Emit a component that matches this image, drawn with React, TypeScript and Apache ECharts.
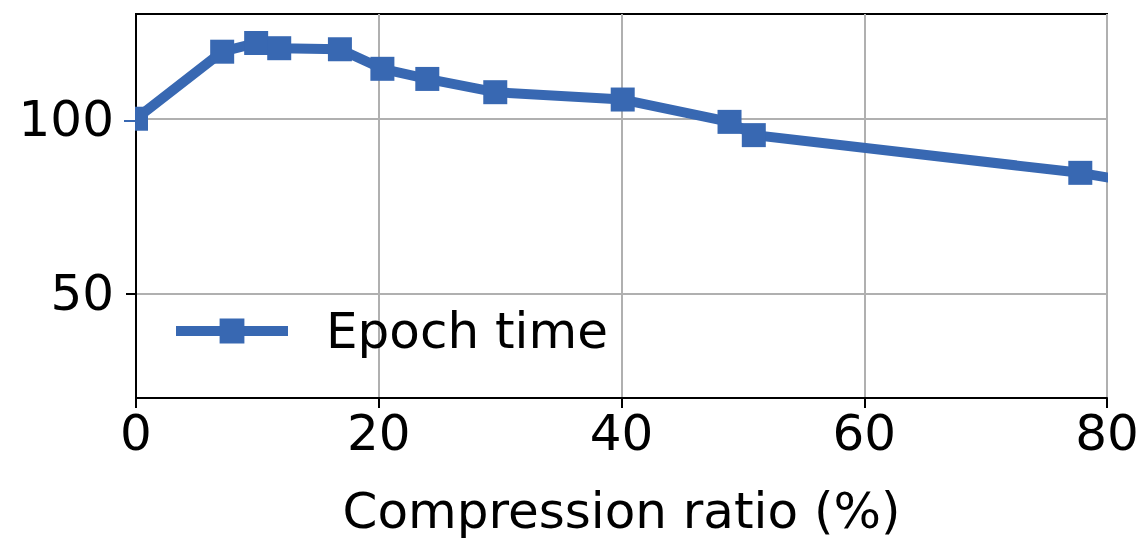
import React, { useEffect, useRef } from "react";
import * as echarts from "echarts";

// Compression ratio (%) vs. epoch time
const ratios = [0, 7.1, 9.9, 11.8, 16.8, 20.3, 24.0, 29.6, 40.1, 48.9, 50.9, 77.8, 90];
const epochTime = [100, 119.2, 121.7, 120.2, 119.9, 114.3, 111.4, 107.6, 105.5, 99.1, 95.3, 84.5, 77.3];
const xTicks = [0, 20, 40, 60, 80];
const yTicks = [50, 100];

const seriesName = "Epoch time";
const xName = "Compression ratio (%)";

const BLUE = "#3868b2";
const FONT = "DejaVu Sans";
const FS = 50;

const GRID = { left: 136, top: 14, width: 971, height: 389 };

export default function App() {
  const ref = useRef<HTMLDivElement>(null);

  useEffect(() => {
    if (!ref.current) return;
    const chart = echarts.init(ref.current, undefined, { renderer: "svg" });
    const right = GRID.left + GRID.width;
    chart.setOption({
      animation: false,
      backgroundColor: "#fff",
      textStyle: { fontFamily: FONT },
      grid: {
        ...GRID,
        show: true,
        borderColor: "#000",
        borderWidth: 2,
        backgroundColor: "transparent",
      },
      legend: {
        left: 166,
        top: 301,
        itemWidth: 112,
        itemHeight: 31,
        data: [seriesName],
        lineStyle: { width: 10 },
        textStyle: {
          fontFamily: FONT,
          fontSize: FS,
          color: "#000",
          padding: [0, 0, 0, 33],
        },
      },
      // keep the series inside the plot frame at both edges
      graphic: [
        { type: "rect", z: 100, shape: { x: right + 1, y: 0, width: 60, height: 400 }, style: { fill: "#fff" } },
        { type: "rect", z: 100, shape: { x: 112, y: 100, width: GRID.left - 113, height: 20 }, style: { fill: "#fff" } },
        { type: "rect", z: 100, shape: { x: 112, y: 122, width: GRID.left - 113, height: 20 }, style: { fill: "#fff" } },
      ],
      xAxis: {
        type: "value",
        min: 0,
        max: 80,
        interval: 20,
        name: xName,
        nameLocation: "middle",
        nameGap: 88,
        nameTextStyle: { fontFamily: FONT, fontSize: FS, color: "#000" },
        axisLine: { show: true, lineStyle: { color: "#000", width: 2 } },
        axisTick: { show: true, length: 10, lineStyle: { color: "#000", width: 2 }, customValues: xTicks },
        axisLabel: { fontFamily: FONT, fontSize: FS, color: "#000", margin: 10, customValues: xTicks },
        splitLine: { show: true, lineStyle: { color: "#b0b0b0", width: 2 } },
      },
      yAxis: {
        type: "value",
        min: 20,
        max: 130,
        axisLine: { show: true, lineStyle: { color: "#000", width: 2 } },
        axisTick: { show: true, length: 10, lineStyle: { color: "#000", width: 2 }, customValues: yTicks },
        axisLabel: { fontFamily: FONT, fontSize: FS, color: "#000", margin: 22, customValues: yTicks },
        splitLine: { show: true, lineStyle: { color: "#b0b0b0", width: 2 } },
      },
      series: [
        {
          name: seriesName,
          type: "line",
          data: ratios.map((r, i) => [r, epochTime[i]]),
          clip: true,
          symbol: "rect",
          symbolSize: 24,
          showAllSymbol: true,
          lineStyle: { color: BLUE, width: 10 },
          itemStyle: { color: BLUE },
          emphasis: { disabled: true },
        },
      ],
    });
    return () => chart.dispose();
  }, []);

  return (
    <div
      ref={ref}
      style={{ position: "fixed", left: 0, top: 0, width: 1142, height: 541 }}
    />
  );
}
